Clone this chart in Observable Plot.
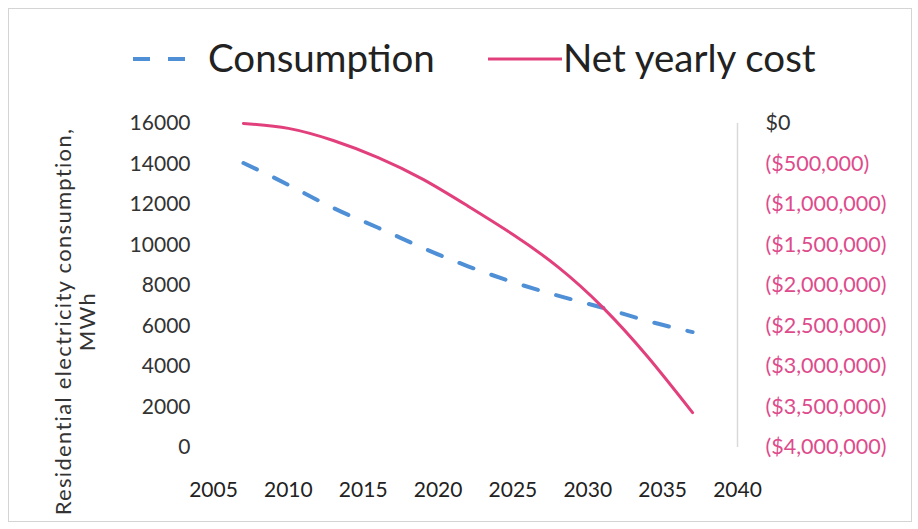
<!DOCTYPE html>
<html><head><meta charset="utf-8">
<script src="https://cdn.jsdelivr.net/npm/d3@7"></script>
<script src="https://cdn.jsdelivr.net/npm/@observablehq/plot@0.6"></script>
<style>
body{margin:0;background:#fff;font-family:Lato,"Open Sans",sans-serif;}
#wrap{position:relative;width:918px;height:529px;overflow:hidden;background:#fff}
#frame{position:absolute;left:8px;top:8px;width:902px;height:512px;border:1px solid #d4d4d4;pointer-events:none}
#legend{position:relative;height:95px}
.sw{position:absolute;top:44px}
.lt{position:absolute;top:33px;font-size:38.5px;line-height:48px;color:#222;white-space:nowrap}
#chart{position:relative}
</style></head>
<body>
<div id="wrap">
<div id="legend">
  <svg class="sw" style="left:130px" width="64" height="30"><line x1="3" y1="15" x2="61" y2="15" stroke="#4f8fd6" stroke-width="4" stroke-dasharray="17,18"/></svg>
  <div class="lt" style="left:208px">Consumption</div>
  <svg class="sw" style="left:486px" width="76" height="30"><line x1="2" y1="15" x2="76" y2="15" stroke="#e2407c" stroke-width="3"/></svg>
  <div class="lt" style="left:563px">Net yearly cost</div>
</div>
<div id="chart"></div>
<div id="frame"></div>
</div>
<script>
// Data
const years = [2007, 2010, 2013, 2016, 2019, 2022, 2025, 2028, 2031, 2034, 2037];
const consumption = [14050, 12970, 11830, 10850, 9850, 8950, 8170, 7500, 6900, 6250, 5700];
const netCost = [0, -60000, -210000, -420000, -690000, -1020000, -1370000, -1770000, -2270000, -2880000, -3570000];
const xTicks = [2005, 2010, 2015, 2020, 2025, 2030, 2035, 2040];
const yTicks = [0, 2000, 4000, 6000, 8000, 10000, 12000, 14000, 16000];
const costTicks = [0, -500000, -1000000, -1500000, -2000000, -2500000, -3000000, -3500000, -4000000];

// secondary axis mapping: cost 0..-4,000,000 onto 16000..0
const costToY = c => 16000 + c / 250;
const costLabel = c => c === 0 ? "$0" : "($" + d3.format(",")(-c) + ")";

const consData = years.map((y, i) => ({year: y, value: consumption[i]}));
const costData = years.map((y, i) => ({year: y, cost: netCost[i]}));

const pink = "#e2407c";
const pinkText = "#de4b8c";

const chart = Plot.plot({
  width: 918,
  height: 434,
  marginLeft: 213,
  marginRight: 181,
  marginTop: 28,
  marginBottom: 82,
  x: {domain: [2005, 2040]},
  y: {domain: [0, 16000]},
  style: {fontFamily: "Lato, 'Open Sans', sans-serif", fontSize: "21px", color: "#333", background: "transparent", overflow: "visible"},
  marks: [
    Plot.ruleX([2040], {stroke: "#d9d9d9", strokeWidth: 1.5}),
    Plot.axisX({ticks: xTicks, tickFormat: d => String(d), tickSize: 0, tickPadding: 35, label: null, fill: "#222"}),
    Plot.axisY({ticks: yTicks, tickFormat: d => String(d), tickSize: 0, tickPadding: 23, label: null, fill: "#333"}),
    Plot.axisY(costTicks.slice(0, 1).map(costToY), {anchor: "right", tickFormat: d => costLabel((d - 16000) * 250), tickSize: 0, tickPadding: 28, label: null, fill: "#333", fontSize: 21.5}),
    Plot.axisY(costTicks.slice(1).map(costToY), {anchor: "right", tickFormat: d => costLabel((d - 16000) * 250), tickSize: 0, tickPadding: 28, label: null, fill: pinkText, fontSize: 21.5}),
    Plot.text(["Residential electricity consumption,\nMWh"], {text: d => d, frameAnchor: "left", textAnchor: "middle", rotate: -90, dx: -138, dy: 36, fontSize: 22, lineHeight: 1.1, fill: "#333"}),
    Plot.line(consData, {x: "year", y: "value", stroke: "#4f8fd6", strokeWidth: 4, strokeDasharray: "15,19", curve: "natural"}),
    Plot.line(costData, {x: "year", y: d => costToY(d.cost), stroke: pink, strokeWidth: 3, curve: "natural"})
  ]
});
document.getElementById("chart").appendChild(chart);
// letter spacing for the rotated axis title
chart.querySelectorAll("text").forEach(t => {
  if (t.textContent.startsWith("Residential") || t.textContent === "MWh") t.setAttribute("letter-spacing", "1.3");
});
</script>
</body></html>
